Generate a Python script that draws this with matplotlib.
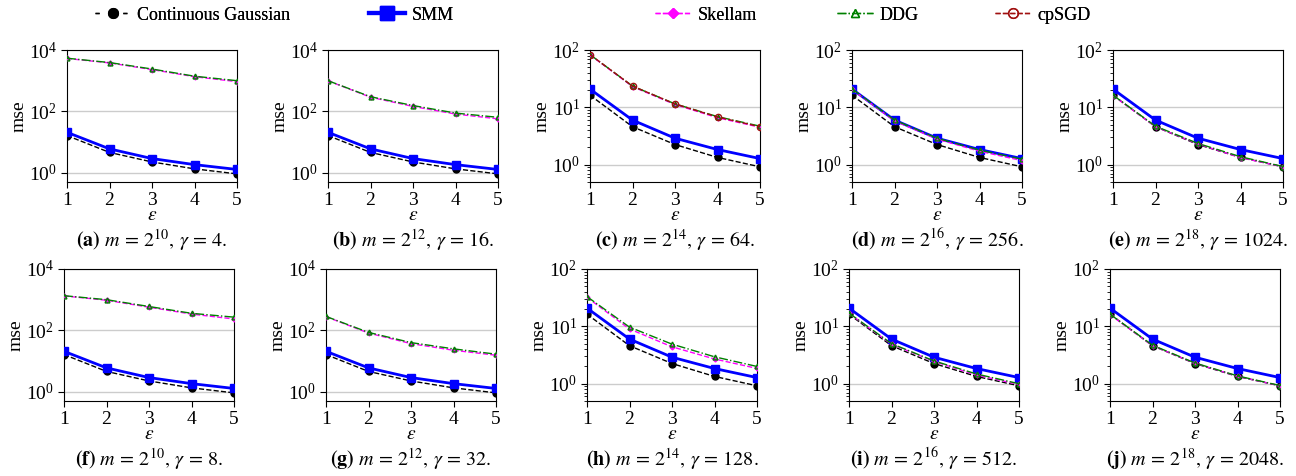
import matplotlib
matplotlib.use("Agg")
import matplotlib.pyplot as plt
from matplotlib.lines import Line2D
from matplotlib.ticker import LogLocator, NullLocator, NullFormatter

plt.rcParams["font.family"] = ["Liberation Serif", "DejaVu Serif"]
plt.rcParams["mathtext.fontset"] = "stix"

# datos
eps = [1, 2, 3, 4, 5]
gauss = [16.3, 4.6, 2.25, 1.34, 0.92]
smm = [20.8, 6.0, 2.9, 1.84, 1.28]

panel_ids = ["a", "b", "c", "d", "e", "f", "g", "h", "i", "j"]
m_exp = [10, 12, 14, 16, 18, 10, 12, 14, 16, 18]
gammas = [4, 16, 64, 256, 1024, 8, 32, 128, 512, 2048]
y_top = [1e4, 1e4, 1e2, 1e2, 1e2, 1e4, 1e4, 1e2, 1e2, 1e2]

ddg = {
    "a": [5400, 3900, 2400, 1400, 1000],
    "b": [1000, 300, 155, 88, 64],
    "c": [83, 23.5, 11.5, 6.9, 4.7],
    "d": [21, 6.0, 2.9, 1.8, 1.25],
    "e": [16.3, 4.7, 2.35, 1.38, 0.93],
    "f": [1350, 1000, 600, 360, 270],
    "g": [285, 86, 40, 25, 16.8],
    "h": [33, 9.7, 4.9, 2.95, 2.0],
    "i": [17, 5.0, 2.5, 1.48, 1.0],
    "j": [16.3, 4.7, 2.3, 1.37, 0.93],
}
skellam = {
    "a": [5300, 3800, 2300, 1350, 930],
    "b": [990, 290, 145, 82, 57],
    "c": [82, 23, 11.2, 6.6, 4.5],
    "d": [20.5, 5.8, 2.8, 1.72, 1.18],
    "e": [16, 4.6, 2.3, 1.33, 0.92],
    "f": [1330, 960, 570, 340, 235],
    "g": [280, 82, 37, 22.5, 15.5],
    "h": [32, 9.0, 4.4, 2.7, 1.85],
    "i": [16.8, 4.9, 2.45, 1.42, 0.97],
    "j": [16, 4.6, 2.28, 1.35, 0.92],
}
cpsgd = {
    "c": [83, 23.5, 11.5, 6.8, 4.6],
}

W, H = 1296, 476
fig = plt.figure(figsize=(W / 100, H / 100), dpi=100)

lefts = [[67, 328, 590, 852, 1113], [64, 326, 587, 849, 1110]]
tops = [50, 269]
cap_y = [240, 459]
aw, ah = 170, 132

for k, pid in enumerate(panel_ids):
    row, col = divmod(k, 5)
    l = lefts[row][col]
    t = tops[row]
    ax = fig.add_axes([l / W, 1 - (t + ah) / H, aw / W, ah / H])

    ax.plot(eps, gauss, color="black", linestyle="--", lw=1.0,
            marker="o", ms=5, zorder=3)
    ax.plot(eps, smm, color="blue", linestyle="-", lw=2.0,
            marker="s", ms=5.5, zorder=4)
    ax.plot(eps, skellam[pid], color="magenta", linestyle="--", lw=1.0,
            marker="D", ms=2.5, zorder=5)
    ax.plot(eps, ddg[pid], color="green", linestyle="-.", lw=1.0,
            marker="^", ms=3.5, mfc="none", mew=1.0, zorder=6)
    if pid in cpsgd:
        ax.plot(eps, cpsgd[pid], color="#a01010", linestyle="--", lw=1.0,
                marker="o", ms=4.5, mfc="none", mew=1.0, zorder=7)

    ax.set_yscale("log")
    ax.set_xlim(1, 5)
    ax.set_ylim(0.5, y_top[k])
    ax.set_xticks(eps)
    if y_top[k] > 1e3:
        ax.set_yticks([1, 1e2, 1e4])
        ax.yaxis.set_minor_locator(NullLocator())
    else:
        ax.set_yticks([1, 10, 100])
        ax.yaxis.set_minor_locator(LogLocator(base=10, subs=range(2, 10)))
    ax.yaxis.set_minor_formatter(NullFormatter())
    ax.tick_params(axis="both", which="major", labelsize=14, length=4, pad=3)
    ax.tick_params(axis="y", which="minor", length=2.5)
    ax.grid(True, axis="y", which="major", color="#cccccc", lw=1.0)
    ax.set_axisbelow(True)
    ax.set_ylabel("mse", fontsize=14, labelpad=1)
    ax.set_xlabel(r"$\epsilon$", fontsize=14, labelpad=-1)

    cap = r"$\mathbf{(%s)}\ m\,=\,2^{%d},\,\gamma\,=\,%d.$" % (pid, m_exp[k], gammas[k])
    fig.text((l + aw / 2) / W, 1 - cap_y[row] / H, cap, ha="center",
             va="center", fontsize=14.5)

# leyenda arriba, cada entrada en su sitio
handles = [
    Line2D([], [], color="black", linestyle=(0, (3, 7)), lw=1.0, marker="o", ms=7),
    Line2D([], [], color="blue", linestyle="-", lw=3.0, marker="s", ms=10),
    Line2D([], [], color="magenta", linestyle="--", lw=1.0, marker="D", ms=5),
    Line2D([], [], color="green", linestyle="-.", lw=1.0, marker="^", ms=6,
           mfc="none"),
    Line2D([], [], color="#a01010", linestyle="--", lw=1.0, marker="o", ms=7,
           mfc="none"),
]
labels = ["Continuous Gaussian", "SMM", "Skellam", "DDG", "cpSGD"]
leg_x = [95, 369, 655, 837, 995]
for h, lab, x in zip(handles, labels, leg_x):
    lg = fig.legend(handles=[h], labels=[lab], loc="center left",
                    bbox_to_anchor=(x / W, 1 - 15 / H), frameon=False,
                    fontsize=13, borderpad=0, borderaxespad=0,
                    handlelength=2.0, handletextpad=0.35)
    fig.add_artist(lg)

fig.savefig("out.png", dpi=100)
